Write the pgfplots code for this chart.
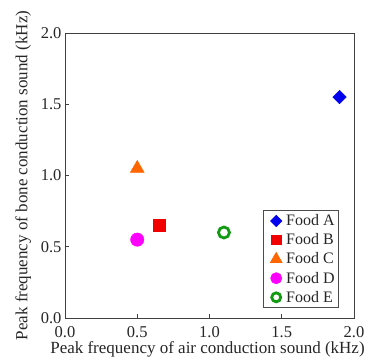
\documentclass[border=0pt]{standalone}
\usepackage{pgfplots}
\pgfplotsset{compat=1.18}
\usepackage{fontspec}
\setmainfont{Liberation Serif}
\definecolor{cA}{HTML}{0000EE}
\definecolor{cB}{HTML}{F20000}
\definecolor{cC}{HTML}{FF6600}
\definecolor{cD}{HTML}{FF00FF}
\definecolor{cE}{HTML}{139A13}
\begin{document}
\begin{tikzpicture}
\useasboundingbox (-65pt,-43pt) rectangle (304pt,318pt);
\begin{axis}[
  at={(0,0)}, anchor=south west,
  scale only axis,
  width=289pt, height=285pt,
  xmin=0, xmax=2, ymin=0, ymax=2,
  xtick={0,0.5,1,1.5,2}, ytick={0,0.5,1,1.5,2},
  xticklabel style={/pgf/number format/fixed,/pgf/number format/fixed zerofill,/pgf/number format/precision=1, anchor=base, inner sep=0.5pt, yshift=-19pt},
  yticklabel style={/pgf/number format/fixed,/pgf/number format/fixed zerofill,/pgf/number format/precision=1},
  /pgf/number format/assume math mode=true,
  tick label style={font=\fontsize{16.5}{16.5}\selectfont, black!85},
  label style={font=\fontsize{17}{17}\selectfont, black!85},
  xlabel={Peak frequency of air conduction sound (kHz)},
  ylabel={Peak frequency of bone conduction sound (kHz)},
  xlabel style={at={(rel axis cs:0.5,0)}, anchor=base, inner sep=0pt, yshift=-35.5pt, xshift=-2pt},
  ylabel style={yshift=3pt},
  tick pos=left, tick align=inside,
  major tick length=4pt,
  axis line style={black!75, line width=0.8pt},
  every tick/.style={black!75, line width=0.8pt},
  legend style={at={(rel axis cs:0.948,0.035)}, anchor=south east,
    draw=black!70, line width=0.8pt, font=\fontsize{16}{16}\selectfont,
    row sep=2.5pt, inner sep=2pt, text=black!85},
  legend cell align=left,
  legend image code/.code={\path (-9pt,0pt) (6.5pt,0pt); \draw[#1, every mark/.append style={scale=0.82}] plot coordinates {(0pt,0pt)};},
]
\addplot[only marks, mark=square*, mark size=4.8pt, mark options={rotate=45}, color=cA] coordinates {(1.9,1.55)};
\addlegendentry{Food A}
\addplot[only marks, mark=square*, mark size=5.8pt, color=cB] coordinates {(0.65,0.65)};
\addlegendentry{Food B}
\addplot[only marks, mark=triangle*, mark size=8pt, color=cC] coordinates {(0.5,1.05)};
\addlegendentry{Food C}
\addplot[only marks, mark=*, mark size=6.7pt, color=cD] coordinates {(0.5,0.55)};
\addlegendentry{Food D}
\addplot[only marks, mark=o, mark size=5.5pt, color=cE, line width=2.8pt] coordinates {(1.1,0.6)};
\addlegendentry{Food E}
\end{axis}
\end{tikzpicture}
\end{document}
